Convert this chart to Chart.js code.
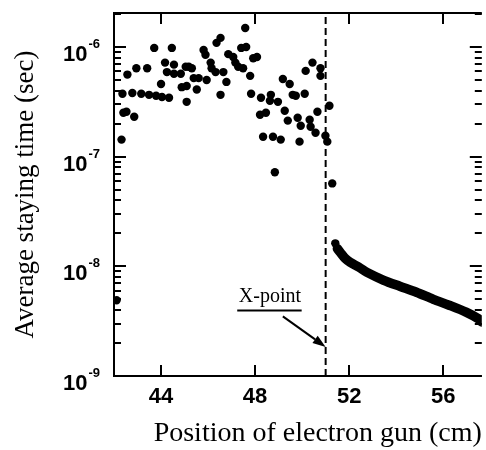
<!DOCTYPE html>
<html>
<head>
<meta charset="utf-8">
<script src="https://cdn.jsdelivr.net/npm/chart.js@4.4.1/dist/chart.umd.min.js"></script>
<style>
  html, body { margin: 0; padding: 0; background: #fff; }
  #wrap { width: 486px; height: 450px; }
</style>
</head>
<body>
<div id="wrap"><canvas id="chart" width="486" height="450"></canvas></div>
<script>
// ==== Data ====
// scattered staying times, position in cm
const scatterX = [
  42.11, 42.32, 42.36, 42.40, 42.53, 42.86, 42.57, 42.78, 42.95, 43.16,
  43.41, 43.49, 43.71, 43.79, 44.00, 44.04, 44.17, 44.25, 44.34, 44.46,
  44.55, 44.55, 44.84, 44.88, 45.05, 45.09, 45.09, 45.18, 45.31, 45.39,
  45.52, 45.60, 45.81, 45.89, 45.94, 46.11, 46.15, 46.32, 46.36, 46.53,
  46.53, 46.65, 46.78, 46.86, 47.07, 47.16, 47.28, 47.41, 47.49, 47.58,
  47.62, 47.79, 47.83, 47.92, 48.08, 48.21, 48.25, 48.34, 48.46, 48.63,
  48.67, 48.76, 48.84, 48.97, 49.09, 49.18, 49.26, 49.39, 49.47, 49.60,
  49.73, 49.81, 49.89, 49.94, 50.11, 50.15, 50.32, 50.36, 50.44, 50.57,
  50.65, 50.78, 50.78, 50.99, 51.07, 51.16, 51.28, 51.41
];
const scatterY = [
  4.9e-9, 1.43e-7, 3.74e-7, 2.51e-7, 2.57e-7, 2.31e-7, 5.6e-7, 3.8e-7, 6.4e-7, 3.74e-7,
  6.4e-7, 3.66e-7, 9.8e-7, 3.59e-7, 4.6e-7, 3.5e-7, 7.2e-7, 5.9e-7, 3.44e-7, 9.8e-7,
  6.9e-7, 5.7e-7, 5.7e-7, 4.3e-7, 6.6e-7, 4.4e-7, 3.16e-7, 6.6e-7, 6.4e-7, 5.2e-7,
  4.1e-7, 5.2e-7, 9.4e-7, 8.5e-7, 5.0e-7, 7.2e-7, 6.4e-7, 5.9e-7, 1.09e-6, 1.21e-6,
  3.66e-7, 5.9e-7, 4.8e-7, 8.6e-7, 8.1e-7, 7.2e-7, 6.6e-7, 9.8e-7, 6.4e-7, 1.49e-6,
  1.0e-6, 5.45e-7, 3.74e-7, 7.9e-7, 8.1e-7, 2.41e-7, 3.44e-7, 1.52e-7, 2.51e-7, 3.23e-7,
  3.66e-7, 1.52e-7, 7.2e-8, 3.16e-7, 1.43e-7, 5.1e-7, 2.62e-7, 2.13e-7, 4.6e-7, 3.66e-7,
  3.59e-7, 2.26e-7, 1.37e-7, 1.91e-7, 3.74e-7, 6.05e-7, 2.17e-7, 1.87e-7, 7.2e-7, 1.65e-7,
  2.57e-7, 6.4e-7, 5.45e-7, 1.55e-7, 1.37e-7, 2.91e-7, 5.7e-8, 1.62e-8
];

// dense points beyond the X-point (drawn as a thick band)
const curveX = [51.50, 51.62, 51.83, 52.04, 52.42, 52.76, 53.47, 54.15, 54.86, 55.58, 56.25, 56.97, 57.52, 57.64];
const curveY = [1.45e-8, 1.34e-8, 1.18e-8, 1.09e-8, 9.8e-9, 8.8e-9, 7.46e-9, 6.58e-9, 5.8e-9, 5.0e-9, 4.42e-9, 3.82e-9, 3.3e-9, 3.1e-9];

const xTicks = [44, 48, 52, 56];
const yTicks = [1e-9, 1e-8, 1e-7, 1e-6];
const xPoint = 51.0;

const LABEL_FONT = "bold 22px 'Liberation Sans', Arial, sans-serif";
const EXP_FONT = "bold 13px 'Liberation Sans', Arial, sans-serif";

function toPoints(xs, ys) {
  return xs.map((x, i) => ({ x: x, y: ys[i] }));
}

// ==== Frame, inward ticks, 10^n labels and X-point note ====
const framePlugin = {
  id: "frame",
  afterDatasetsDraw(chart) {
    const { ctx, chartArea: a, scales } = chart;
    const x = scales.x, y = scales.y;
    ctx.save();
    ctx.strokeStyle = "#000";
    ctx.fillStyle = "#000";
    ctx.lineWidth = 2;
    ctx.beginPath();
    ctx.moveTo(a.right, a.top); ctx.lineTo(a.left, a.top);
    ctx.lineTo(a.left, a.bottom); ctx.lineTo(a.right, a.bottom);
    ctx.stroke();

    ctx.beginPath();
    xTicks.forEach(v => {
      const px = Math.round(x.getPixelForValue(v));
      ctx.moveTo(px, a.bottom); ctx.lineTo(px, a.bottom - 11);
      ctx.moveTo(px, a.top); ctx.lineTo(px, a.top + 11);
    });
    ctx.stroke();

    ctx.beginPath();
    for (let d = -9; d <= -6; d++) {
      for (let m = 1; m <= 9; m++) {
        const v = m * Math.pow(10, d);
        if (v > y.max) break;
        const py = Math.round(y.getPixelForValue(v));
        const len = m === 1 ? 12 : 7;
        ctx.moveTo(a.left, py); ctx.lineTo(a.left + len, py);
        ctx.moveTo(a.right, py); ctx.lineTo(a.right - len, py);
      }
    }
    ctx.stroke();

    // y tick labels: "10" with a raised exponent
    ctx.textAlign = "left";
    ctx.textBaseline = "alphabetic";
    yTicks.forEach(v => {
      const py = y.getPixelForValue(v);
      const exp = String(Math.round(Math.log10(v)));
      ctx.font = LABEL_FONT;
      const wBase = ctx.measureText("10").width;
      ctx.font = EXP_FONT;
      const wExp = ctx.measureText(exp).width;
      const left = a.left - 14 - wExp - 1 - wBase;
      ctx.font = LABEL_FONT;
      ctx.fillText("10", left, py + 14);
      ctx.font = EXP_FONT;
      ctx.fillText(exp, left + wBase + 1, py + 1);
    });

    // "X-point" note with arrow
    const tx = x.getPixelForValue(48.63), ty = y.getPixelForValue(5.33e-9);
    ctx.font = "20px 'Liberation Serif', 'Times New Roman', serif";
    ctx.textAlign = "center";
    ctx.textBaseline = "middle";
    ctx.fillText("X-point", tx, ty);
    const uy = Math.round(y.getPixelForValue(3.98e-9)) + 0.5;
    ctx.lineWidth = 2;
    ctx.beginPath();
    ctx.moveTo(x.getPixelForValue(47.24), uy);
    ctx.lineTo(x.getPixelForValue(49.98), uy);
    ctx.stroke();

    const x0 = x.getPixelForValue(49.18), y0 = y.getPixelForValue(3.5e-9);
    const x1 = x.getPixelForValue(xPoint), y1 = y.getPixelForValue(1.84e-9);
    const ang = Math.atan2(y1 - y0, x1 - x0);
    const hl = 13, hw = 4.5;
    const bx = x1 - hl * Math.cos(ang), by = y1 - hl * Math.sin(ang);
    ctx.beginPath();
    ctx.moveTo(x0, y0); ctx.lineTo(bx, by);
    ctx.stroke();
    ctx.beginPath();
    ctx.moveTo(x1, y1);
    ctx.lineTo(bx + hw * Math.sin(ang), by - hw * Math.cos(ang));
    ctx.lineTo(bx - hw * Math.sin(ang), by + hw * Math.cos(ang));
    ctx.closePath();
    ctx.fill();
    ctx.restore();
  }
};

// ==== Chart ====
const ctx = document.getElementById("chart").getContext("2d");
const chart = new Chart(ctx, {
  type: "scatter",
  data: {
    datasets: [
      {
        type: "line",
        data: [{ x: xPoint, y: 1e-9 }, { x: xPoint, y: 2.04e-6 }],
        borderColor: "#000",
        borderWidth: 2,
        borderDash: [7, 4],
        pointRadius: 0
      },
      {
        data: toPoints(scatterX, scatterY),
        backgroundColor: "#000",
        borderWidth: 0,
        pointRadius: 4.2
      },
      {
        type: "line",
        data: toPoints(curveX, curveY),
        borderColor: "#000",
        borderWidth: 9.5,
        borderCapStyle: "round",
        tension: 0.3,
        pointRadius: 0
      }
    ]
  },
  options: {
    responsive: false,
    animation: false,
    layout: { padding: { top: 13, right: 0, left: 0, bottom: 0 } },
    plugins: { legend: { display: false }, tooltip: { enabled: false } },
    scales: {
      x: {
        type: "linear",
        min: 42,
        max: 57.64,
        grid: { display: false, drawTicks: false },
        border: { display: false },
        afterBuildTicks: s => { s.ticks = xTicks.map(v => ({ value: v })); },
        afterFit: s => { s.height = 74; },
        ticks: {
          color: "#000",
          padding: 8,
          font: { family: "'Liberation Sans', Arial, sans-serif", size: 22, weight: "bold" }
        },
        title: {
          display: true,
          text: "Position of electron gun (cm)",
          align: "end",
          color: "#000",
          padding: { top: 0, bottom: 0 },
          font: { family: "'Liberation Serif', 'Times New Roman', serif", size: 28 }
        }
      },
      y: {
        type: "logarithmic",
        min: 1e-9,
        max: 2.04e-6,
        grid: { display: false, drawTicks: false },
        border: { display: false },
        afterBuildTicks: s => { s.ticks = yTicks.map(v => ({ value: v })); },
        afterFit: s => { s.width = 114; },
        ticks: { display: false },
        title: {
          display: true,
          text: "Average staying time (sec)",
          color: "#000",
          padding: { top: 10, bottom: 0 },
          font: { family: "'Liberation Serif', 'Times New Roman', serif", size: 27 }
        }
      }
    }
  },
  plugins: [framePlugin]
});
</script>
</body>
</html>
